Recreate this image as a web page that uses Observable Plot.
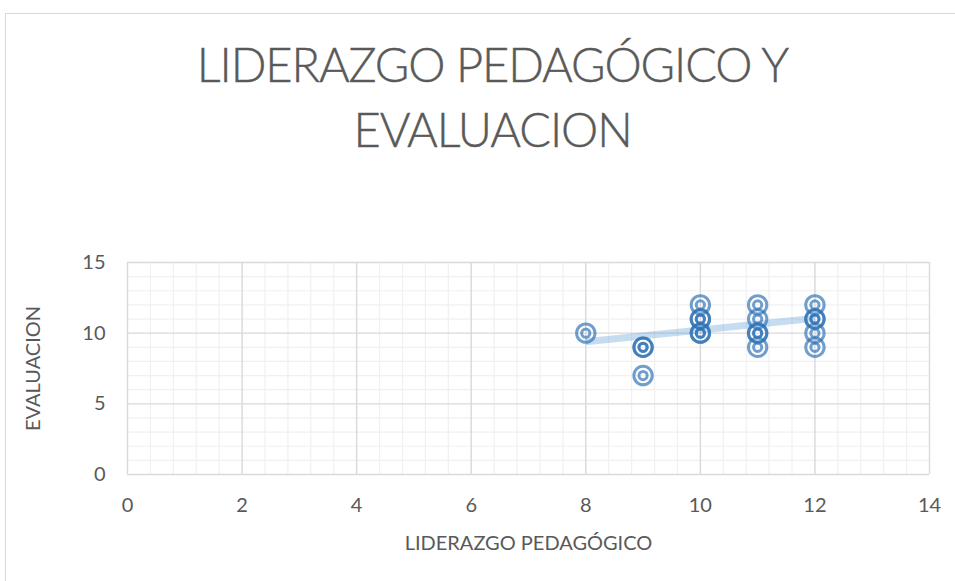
<!DOCTYPE html>
<html>
<head>
<meta charset="utf-8">
<script src="https://cdn.jsdelivr.net/npm/d3@7"></script>
<script src="https://cdn.jsdelivr.net/npm/@observablehq/plot@0.6"></script>
<style>
  html, body { margin: 0; padding: 0; background: #fff; }
  #wrap { position: relative; width: 955px; height: 581px; overflow: hidden; font-family: Lato, "Open Sans", sans-serif; }
  #frame { position: absolute; left: 5px; top: 13px; width: 1000px; height: 700px; border: 1px solid #d9d9d9; box-sizing: border-box; }
  #title { position: absolute; left: 15px; width: 955px; top: 32px; text-align: center; color: #595959; font-weight: 300; font-size: 47px; line-height: 65px; letter-spacing: -1.1px; -webkit-text-stroke: 0.4px #595959; }
  #chart { position: absolute; left: 0; top: 0; }
  #chart svg { overflow: visible; }
</style>
</head>
<body>
<div id="wrap">
  <div id="frame"></div>
  <div id="chart"></div>
  <div id="title">LIDERAZGO PEDAGÓGICO Y<br>EVALUACION</div>
</div>
<script>
// Data (darker markers = overlapping duplicates)
const liderazgo  = [8, 9, 9, 9, 10, 10, 10, 10, 10, 11, 11, 11, 11, 11, 12, 12, 12, 12, 12];
const evaluacion = [10, 9, 9, 7, 12, 11, 11, 10, 10, 12, 11, 10, 10, 9, 12, 11, 11, 10, 9];
// Trendline endpoints
const trendX = [8, 12];
const trendY = [9.4, 11.05];
// Tick labels
const xTicks = [0, 2, 4, 6, 8, 10, 12, 14];
const yTicks = [0, 5, 10, 15];
const xMinor = [0.4,0.8,1.2,1.6,2.4,2.8,3.2,3.6,4.4,4.8,5.2,5.6,6.4,6.8,7.2,7.6,8.4,8.8,9.2,9.6,10.4,10.8,11.2,11.6,12.4,12.8,13.2,13.6];
const yMinor = [1,2,3,4,6,7,8,9,11,12,13,14];

const points = liderazgo.map((x, i) => ({x, y: evaluacion[i]}));
const trend = trendX.map((x, i) => ({x, y: trendY[i]}));

const textColor = "#595959";
const markerColor = "#2E72B6";

const plot = Plot.plot({
  width: 955,
  height: 581,
  marginLeft: 127,
  marginRight: 26,
  marginTop: 262,
  marginBottom: 107,
  style: { fontFamily: "Lato, 'Open Sans', sans-serif", fontSize: "20px", color: textColor, background: "transparent" },
  x: { domain: [0, 14], label: null },
  y: { domain: [0, 15], label: null },
  marks: [
    Plot.gridX(xMinor, { stroke: "#f0f0f0", strokeOpacity: 1, strokeWidth: 1.2 }),
    Plot.gridY(yMinor, { stroke: "#f0f0f0", strokeOpacity: 1, strokeWidth: 1.2 }),
    Plot.gridX(xTicks, { stroke: "#d9d9d9", strokeOpacity: 1, strokeWidth: 1.4 }),
    Plot.gridY(yTicks, { stroke: "#d9d9d9", strokeOpacity: 1, strokeWidth: 1.4 }),
    Plot.axisX(xTicks, { tickSize: 0, tickPadding: 23, fill: textColor, fontSize: 20, label: null }),
    Plot.axisY(yTicks, { tickSize: 0, tickPadding: 22, fill: textColor, fontSize: 20, label: null }),
    Plot.line(trend, { x: "x", y: "y", stroke: "#5B9BD5", strokeOpacity: 0.35, strokeWidth: 7, strokeLinecap: "butt" }),
    Plot.dot(points, { x: "x", y: "y", r: 9.2, stroke: markerColor, strokeOpacity: 0.68, strokeWidth: 3, fill: "none" }),
    Plot.dot(points, { x: "x", y: "y", r: 4.1, stroke: markerColor, strokeOpacity: 0.68, strokeWidth: 3, fill: "none" }),
    Plot.text(["LIDERAZGO PEDAGÓGICO"], { frameAnchor: "bottom", lineAnchor: "middle", dy: 69, fill: textColor, fontSize: 20 }),
    Plot.text(["EVALUACION"], { frameAnchor: "left", textAnchor: "middle", lineAnchor: "middle", dx: -94, rotate: -90, fill: textColor, fontSize: 20 })
  ]
});
document.getElementById("chart").appendChild(plot);
</script>
</body>
</html>
